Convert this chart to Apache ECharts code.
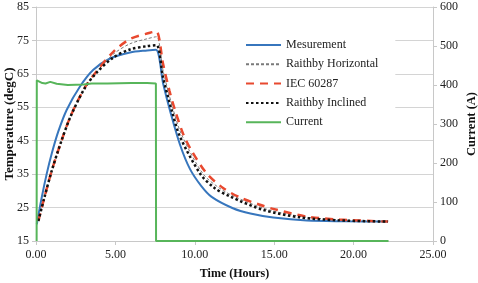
<!DOCTYPE html>
<html>
<head>
<meta charset="utf-8">
<script src="https://cdn.jsdelivr.net/npm/echarts@6/dist/echarts.min.js"></script>
<style>
  html, body { margin: 0; padding: 0; background: #fff; }
  #chart { width: 478px; height: 283px; }
</style>
</head>
<body>
<div id="chart"></div>
<script>
// values (time in hours, temperature in degC, current in A)
var measTime = [0.05, 0.36, 0.67, 1.0, 1.4, 1.93, 2.77, 3.61, 4.66, 5.92, 7.0, 7.55,
                8.02, 8.44, 9.07, 9.7, 10.4, 11.06, 12.4, 13.5, 14.94, 17.05, 19.5, 22.17];
var measTemp = [20.0, 28.0, 35.0, 41.3, 47.7, 54.2, 61.2, 66.2, 69.6, 71.4, 72.0, 72.2,
                61.8, 54.0, 43.8, 36.5, 31.5, 28.2, 24.8, 23.2, 22.0, 21.1, 20.9, 20.8];

var rhTime = [0.15, 0.5, 0.99, 1.62, 2.2, 3.09, 3.82, 4.87, 5.92, 7.0, 7.58,
              8.0, 8.6, 9.15, 10.5, 11.5, 12.5, 14.6, 16.9, 19.2, 22.17];
var rhTemp = [21.0, 27.5, 36.0, 45.2, 52.6, 61.0, 65.6, 70.9, 74.0, 75.5, 76.1,
              66.0, 55.0, 47.0, 35.2, 31.0, 28.3, 24.4, 22.2, 21.3, 20.8];

var iecTime = [0.15, 0.5, 0.99, 1.62, 2.2, 3.09, 3.82, 4.87, 5.92, 7.18, 7.58,
               8.0, 8.4, 8.75, 9.27, 9.8, 10.75, 11.8, 12.85, 14.0, 14.94, 17.05, 19.14, 22.17];
var iecTemp = [21.0, 27.5, 36.0, 45.2, 52.6, 61.0, 65.8, 71.6, 75.4, 77.3, 77.7,
               68.0, 60.0, 54.2, 47.0, 42.0, 35.2, 30.8, 28.0, 26.0, 24.6, 22.3, 21.4, 20.8];

var riTime = [0.15, 0.5, 0.99, 1.62, 2.2, 3.09, 3.82, 4.87, 5.92, 7.0, 7.58,
              8.0, 8.54, 9.07, 10.33, 11.2, 12.22, 14.31, 16.6, 19.0, 22.17];
var riTemp = [21.0, 27.5, 36.0, 45.2, 52.5, 60.9, 65.4, 69.9, 72.3, 73.3, 73.6,
              64.0, 54.2, 46.2, 35.2, 31.0, 28.3, 24.3, 22.1, 21.2, 20.8];

var curTime = [0.04, 0.05, 0.4, 0.6, 0.9, 1.3, 2.0, 3.0, 3.5, 4.5, 6.0, 7.0, 7.55, 7.56, 22.2];
var curAmp  = [0, 412, 405, 404, 408, 403, 400, 401, 404, 404, 405, 405, 404, 0, 0];

var xTicks = [0, 5, 10, 15, 20, 25];

function pairs(xs, ys) {
    return xs.map(function (x, i) { return [x, ys[i]]; });
}

var serif = '"Liberation Serif", "Times New Roman", serif';
var chart = echarts.init(document.getElementById('chart'));

var option = {
    animation: false,
    textStyle: { fontFamily: serif },
    grid: { left: 36, right: 45, top: 7, bottom: 42, outerBoundsMode: 'none', containLabel: false },
    legend: {
        orient: 'vertical',
        left: 230,
        top: 30,
        padding: [9, 17, 6, 15],
        backgroundColor: '#fff',
        itemWidth: 35,
        itemHeight: 12,
        itemGap: 7.3,
        itemStyle: { opacity: 0 },
        textStyle: { fontFamily: serif, fontSize: 12, color: '#222' }
    },
    xAxis: {
        type: 'value',
        min: xTicks[0],
        max: xTicks[xTicks.length - 1],
        interval: 5,
        name: 'Time (Hours)',
        nameLocation: 'middle',
        nameGap: 27,
        nameMoveOverlap: false,
        nameTextStyle: { fontFamily: serif, fontSize: 12, fontWeight: 'bold', color: '#111' },
        axisLine: { show: true, lineStyle: { color: '#c8c8c8' } },
        axisTick: { show: true, length: 4, lineStyle: { color: '#c8c8c8' } },
        axisLabel: { fontFamily: serif, fontSize: 12, color: '#222', margin: 8,
            formatter: function (v) { return v.toFixed(2); } },
        splitLine: { show: false }
    },
    yAxis: [{
        type: 'value',
        min: 15, max: 85, interval: 10,
        name: 'Temperature (degC)',
        nameLocation: 'middle',
        nameGap: 20,
        nameMoveOverlap: false,
        nameTextStyle: { fontFamily: serif, fontSize: 13, fontWeight: 'bold', color: '#111' },
        axisLine: { show: true, lineStyle: { color: '#c8c8c8' } },
        axisTick: { show: true, length: 4, lineStyle: { color: '#c8c8c8' } },
        axisLabel: { fontFamily: serif, fontSize: 12, color: '#222', margin: 7 },
        splitLine: { show: true, lineStyle: { color: '#d4d4d4', width: 1 } }
    }, {
        type: 'value',
        min: 0, max: 600, interval: 100,
        name: 'Current (A)',
        nameLocation: 'middle',
        nameGap: 32,
        nameMoveOverlap: false,
        nameTextStyle: { fontFamily: serif, fontSize: 12.5, fontWeight: 'bold', color: '#111' },
        axisLine: { show: true, lineStyle: { color: '#c8c8c8' } },
        axisTick: { show: true, length: 4, lineStyle: { color: '#c8c8c8' } },
        axisLabel: { fontFamily: serif, fontSize: 12, color: '#222', margin: 7 },
        splitLine: { show: false }
    }],
    series: [{
        name: 'Mesurement',
        type: 'line',
        data: pairs(measTime, measTemp),
        smooth: 0.3,
        symbol: 'none',
        lineStyle: { color: '#3776bd', width: 2 },
        itemStyle: { color: '#3776bd' }
    }, {
        name: 'Raithby Horizontal',
        type: 'line',
        data: pairs(rhTime, rhTemp),
        smooth: 0.3,
        symbol: 'none',
        lineStyle: { color: '#7a7a7a', width: 1, type: [3, 2] },
        itemStyle: { color: '#7a7a7a' }
    }, {
        name: 'IEC 60287',
        type: 'line',
        data: pairs(iecTime, iecTemp),
        smooth: 0.3,
        symbol: 'none',
        lineStyle: { color: '#e8492f', width: 2.5, type: [8, 6] },
        itemStyle: { color: '#e8492f' }
    }, {
        name: 'Raithby Inclined',
        type: 'line',
        data: pairs(riTime, riTemp),
        smooth: 0.3,
        symbol: 'none',
        lineStyle: { color: '#111', width: 2.5, type: [2.5, 2.5] },
        itemStyle: { color: '#111' }
    }, {
        name: 'Current',
        type: 'line',
        yAxisIndex: 1,
        data: pairs(curTime, curAmp),
        symbol: 'none',
        lineStyle: { color: '#57b55a', width: 2 },
        itemStyle: { color: '#57b55a' }
    }]
};

chart.setOption(option);
</script>
</body>
</html>
